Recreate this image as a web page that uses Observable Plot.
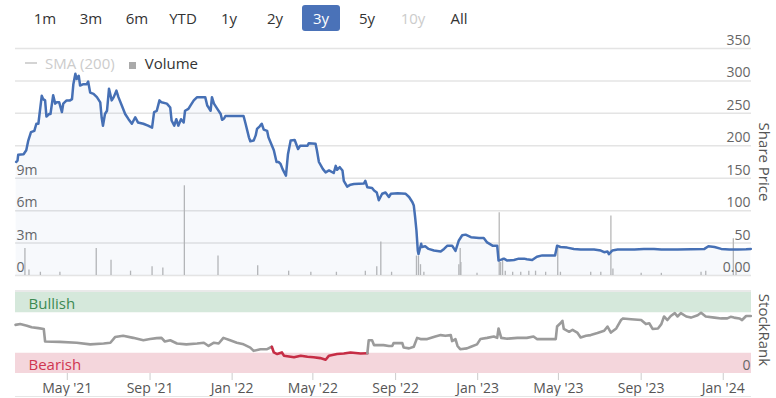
<!DOCTYPE html>
<html>
<head>
<meta charset="utf-8">
<script src="https://cdn.jsdelivr.net/npm/d3@7"></script>
<script src="https://cdn.jsdelivr.net/npm/@observablehq/plot@0.6"></script>
<style>
  html, body { margin: 0; padding: 0; background: #fff; }
  #wrap { position: relative; width: 776px; height: 398px; overflow: hidden; font-family: "Open Sans", sans-serif; }
  .layer { position: absolute; left: 0; }
  #buttons { position: absolute; left: 22px; top: 5px; display: flex; }
  #buttons span { width: 46px; display: flex; justify-content: center; }
  #buttons b { font-weight: normal; font-size: 15px; color: #333; height: 26px; line-height: 26px; padding: 0 11px; border-radius: 3px; }
  #buttons b.sel { background: #4a72b8; color: #fff; }
  #buttons b.off { color: #ccc; }
  #legend { position: absolute; left: 25px; top: 53px; font-size: 15px; display: flex; align-items: center; white-space: nowrap; }
  .vlabel { position: absolute; font-size: 15px; color: #555; transform: rotate(90deg); transform-origin: center center; white-space: nowrap; }
</style>
</head>
<body>
<div id="wrap">
  <div id="buttons"></div>
  <div id="legend"></div>
</div>
<script>
// ---------- DATA ----------
const rangeButtons = ["1m", "3m", "6m", "YTD", "1y", "2y", "3y", "5y", "10y", "All"];
const selectedButton = "3y";
const disabledButton = "10y";

const priceDates = [
 "2021-02-14","2021-02-16","2021-02-17","2021-02-25","2021-03-01","2021-03-04","2021-03-08","2021-03-13","2021-03-16","2021-03-19",
 "2021-03-24","2021-03-26","2021-03-29","2021-03-31","2021-04-04","2021-04-06","2021-04-10","2021-04-13","2021-04-15","2021-04-19",
 "2021-04-23","2021-04-25","2021-04-30","2021-05-05","2021-05-08","2021-05-10","2021-05-13","2021-05-15","2021-05-18","2021-05-20",
 "2021-05-25","2021-05-30","2021-06-01","2021-06-04","2021-06-09","2021-06-14","2021-06-19","2021-06-21","2021-06-23","2021-06-26",
 "2021-06-29","2021-07-02","2021-07-06","2021-07-09","2021-07-13","2021-07-16","2021-07-21","2021-07-26","2021-07-31","2021-08-05",
 "2021-08-10","2021-08-14","2021-08-22","2021-08-29","2021-09-04","2021-09-07","2021-09-11","2021-09-15","2021-09-18","2021-09-26",
 "2021-10-01","2021-10-03","2021-10-07","2021-10-10","2021-10-13","2021-10-17","2021-10-21","2021-10-23","2021-10-28","2021-10-31",
 "2021-11-05","2021-11-10","2021-11-17","2021-11-22","2021-11-25","2021-11-27","2021-11-30","2021-12-02","2021-12-05","2021-12-10",
 "2021-12-15","2021-12-17","2021-12-20","2021-12-22","2021-12-30","2022-01-18","2022-01-21","2022-01-26","2022-01-28","2022-02-02",
 "2022-02-05","2022-02-07","2022-02-11","2022-02-14","2022-02-17","2022-02-22","2022-02-24","2022-02-28","2022-03-04","2022-03-08",
 "2022-03-11","2022-03-14","2022-03-17","2022-03-22","2022-03-25","2022-03-29","2022-04-04","2022-04-09","2022-04-12","2022-04-23",
 "2022-04-25","2022-05-05","2022-05-07","2022-05-10","2022-05-16","2022-05-20","2022-05-25","2022-06-01","2022-06-04","2022-06-06",
 "2022-06-10","2022-06-14","2022-06-16","2022-06-21","2022-06-26","2022-07-01","2022-07-16","2022-07-18","2022-07-21","2022-07-28",
 "2022-07-31","2022-08-04","2022-08-07","2022-08-12","2022-08-17","2022-08-22","2022-08-25","2022-09-04","2022-09-16","2022-09-21",
 "2022-09-26","2022-09-28","2022-09-30","2022-10-02","2022-10-04","2022-10-05","2022-10-09","2022-10-10","2022-10-15","2022-10-20",
 "2022-10-28","2022-11-07","2022-11-12","2022-11-17","2022-11-24","2022-11-29","2022-12-04","2022-12-09","2022-12-14","2022-12-22",
 "2023-01-03","2023-01-10","2023-01-15","2023-01-23","2023-01-30","2023-02-01","2023-02-04","2023-02-09","2023-02-14","2023-02-24",
 "2023-03-03","2023-03-11","2023-03-15","2023-03-23","2023-03-30","2023-04-07","2023-04-17","2023-04-26","2023-04-29","2023-05-04",
 "2023-05-14","2023-05-24","2023-06-03","2023-06-23","2023-07-03","2023-07-08","2023-07-13","2023-07-15","2023-07-20","2023-07-28",
 "2023-08-22","2023-09-05","2023-09-20","2023-10-01","2023-10-25","2023-12-04","2023-12-10","2023-12-19","2023-12-29","2024-01-10",
 "2024-01-22","2024-02-04","2024-02-11"
];
const priceValues = [
 175,177,186,187,193,208,221,223,234,234,
 277,272,270,245,249,249,278,265,267,267,
 252,265,270,270,272,295,311,303,308,293,
 295,295,299,282,280,275,267,244,231,249,
 254,288,270,275,285,275,262,249,241,234,
 244,236,234,231,228,252,254,270,267,265,
 259,239,231,241,231,241,236,254,257,262,
 270,275,275,275,262,259,254,275,265,257,
 249,240,242,246,246,246,234,213,207,208,
 216,226,230,234,225,223,213,203,193,175,
 175,172,164,154,187,208,209,195,200,200,
 204,203,193,175,164,159,162,158,169,163,
 167,162,146,137,140,141,142,146,136,135,
 131,128,116,126,128,121,126,127,126,121,
 113,108,90,69,38,33,49,44,45,41,
 38.5,37,41,46,46,38,54,62,63,59,
 58,58,51,46,46,23,24,26,23,24,
 26,26,25,24,29,31,31,31,46,44,
 43,41,40,40,38.5,36,37,33,38.5,40,
 40,41,41,40,40,41,45,44,41,40,
 40,40.5,41
];

const volumeDates = [
 "2021-02-27","2021-03-05","2021-03-22","2021-04-20","2021-06-13","2021-07-05","2021-08-03","2021-09-04","2021-09-20","2021-10-22",
 "2021-12-11","2022-02-08","2022-03-26","2022-04-28","2022-06-05","2022-07-18","2022-08-04","2022-08-10","2022-08-26","2022-10-02",
 "2022-10-05","2022-10-08","2022-10-13","2022-12-04","2022-12-06","2022-12-07","2022-12-31","2023-02-02","2023-02-04","2023-02-07",
 "2023-02-11","2023-02-22","2023-03-06","2023-03-18","2023-03-28","2023-04-12","2023-04-30","2023-05-04","2023-06-18","2023-07-03",
 "2023-07-18","2023-07-21","2023-09-01","2023-10-01","2023-11-29","2023-12-06","2024-01-16","2024-01-20"
];
// volume in millions of shares
const volumeValues = [
 2.5,0.5,0.3,0.3,2.5,1.4,0.4,0.8,0.7,8.3,
 1.8,0.9,0.4,0.3,0.3,0.4,0.8,3.1,0.3,1.8,
 1.8,1.0,0.3,1.0,2.5,1.2,0.2,5.8,1.2,1.6,
 0.4,0.3,0.3,0.4,0.4,0.3,2.7,0.3,0.3,0.3,
 5.5,0.6,0.2,0.2,0.3,0.4,3.4,0.4
];

const rankDates = [
 "2021-02-13","2021-02-20","2021-03-02","2021-03-09","2021-03-19","2021-03-27","2021-03-29","2021-04-20","2021-05-15","2021-06-04",
 "2021-06-24","2021-07-04","2021-07-11","2021-07-23","2021-08-07","2021-08-22","2021-09-01","2021-09-11","2021-09-18","2021-09-23",
 "2021-10-01","2021-10-11","2021-10-25","2021-11-10","2021-11-20","2021-11-27","2021-12-05","2021-12-12","2021-12-19","2021-12-29",
 "2022-01-08","2022-01-18","2022-01-28","2022-02-02","2022-02-12","2022-02-22","2022-03-01","2022-03-04","2022-03-09","2022-03-16",
 "2022-03-19","2022-04-03","2022-04-13","2022-04-23","2022-05-02","2022-05-12","2022-05-20","2022-05-25","2022-06-06","2022-06-16",
 "2022-06-26","2022-07-11","2022-07-21","2022-07-23","2022-07-28","2022-07-31","2022-08-14","2022-08-22","2022-08-27","2022-08-29",
 "2022-09-11","2022-09-13","2022-09-21","2022-09-28","2022-10-03","2022-10-08","2022-10-18","2022-10-30","2022-11-07","2022-11-14",
 "2022-11-22","2022-11-24","2022-11-29","2022-12-02","2022-12-06","2022-12-16","2022-12-22","2022-12-31","2023-01-05","2023-01-15",
 "2023-01-25","2023-01-30","2023-02-01","2023-02-05","2023-02-14","2023-03-01","2023-03-15","2023-03-25","2023-03-30","2023-04-14",
 "2023-04-27","2023-04-29","2023-05-04","2023-05-07","2023-05-09","2023-05-17","2023-05-22","2023-05-29","2023-06-03","2023-06-11",
 "2023-06-18","2023-06-28","2023-07-08","2023-07-13","2023-07-18","2023-07-26","2023-08-02","2023-08-05","2023-08-17","2023-09-01",
 "2023-09-08","2023-09-13","2023-09-18","2023-09-26","2023-10-01","2023-10-05","2023-10-10","2023-10-15","2023-10-21","2023-10-25",
 "2023-10-30","2023-11-07","2023-11-14","2023-11-24","2023-11-29","2023-12-06","2023-12-19","2023-12-29","2024-01-07","2024-01-12",
 "2024-01-17","2024-01-25","2024-01-29","2024-02-04","2024-02-11"
];
const rankValues = [
 60,61,59,57,56,55,39.5,39,38,36,
 37,38,45,46.5,44,41,42.5,43.7,44,39.5,
 41,37,36,37,38,34,38,37,44,41,
 38,36,32,28,30,30,33,26,24,26,
 22,20,22,20.6,20,19,17,22,24,24.7,
 26,24.7,25,41,41,35,35,34,34,37.5,
 37.5,32,31,33,44,42.5,42.5,45.7,47.4,46.5,
 47.4,40,42.5,34,30,31,33,36,42.5,44,
 45.7,44,55.6,44,43,44,44,45.7,42.5,42.5,
 42.5,58,62,65,55,51.5,54,50.6,44.4,46.5,
 47.4,49.9,52.7,58,50.6,55.6,66,68,67,66,
 61,62,55,55.6,61,70.4,66,71,74.6,70.4,
 74.6,70.4,69,72,75,70.4,69,68,68,70,
 69,68,66,71,71
];
const bearishThreshold = 27;

const bandNames = ["Bullish", "Bearish"];
const bandLow = [75, 0];
const bandHigh = [100, 25];

const xDomain = ["2021-02-13", "2024-02-12"];
const xTickDates = ["2021-05-01","2021-09-01","2022-01-01","2022-05-01","2022-09-01","2023-01-01","2023-05-01","2023-09-01","2024-01-01"];
const xTickLabels = ["May '21","Sep '21","Jan '22","May '22","Sep '22","Jan '23","May '23","Sep '23","Jan '24"];
const priceTicks = [0, 50, 100, 150, 200, 250, 300, 350];
const volumeGrid = [0, 3, 6, 9, 12, 15, 18, 21];
const volumeTicks = [0, 3, 6, 9];
const rankTicks = [0];

// ---------- BUILD ----------
const P = d => new Date(d + "T00:00:00Z");
const price = priceDates.map((d, i) => ({date: P(d), value: priceValues[i]}));
const volume = volumeDates.map((d, i) => ({date: P(d), value: volumeValues[i]}));
const xdom = xDomain.map(P);
const labelByTime = new Map(xTickDates.map((d, i) => [P(d).getTime(), xTickLabels[i]]));

const BLUE = "#4670b5", GREY_LINE = "#9b9b9b", RED = "#c62d45";
const baseStyle = {background: "transparent", fontFamily: "'Open Sans', sans-serif", fontSize: "14px", overflow: "visible"};

// rank segments coloured by bearish/neutral
const rankSegs = [];
let seg = 0, prevColor = null;
rankDates.forEach((d, i) => {
  const c = rankValues[i] < bearishThreshold ? RED : GREY_LINE;
  if (prevColor !== null && c !== prevColor) {
    seg++;
    rankSegs.push({date: P(rankDates[i - 1]), value: rankValues[i - 1], seg, color: c});
  }
  rankSegs.push({date: P(d), value: rankValues[i], seg, color: c});
  prevColor = c;
});

const wrap = document.getElementById("wrap");

// buttons
const btns = document.getElementById("buttons");
rangeButtons.forEach(b => {
  const s = document.createElement("span");
  const t = document.createElement("b");
  t.textContent = b;
  if (b === selectedButton) t.className = "sel";
  if (b === disabledButton) t.className = "off";
  s.appendChild(t);
  btns.appendChild(s);
});

// legend
document.getElementById("legend").innerHTML =
  '<span style="display:inline-block;width:12px;height:1.5px;background:#d4d4d4;margin-right:8px"></span>' +
  '<span style="color:#cccccc">SMA (200)</span>' +
  '<span style="display:inline-block;width:7px;height:7px;background:#aaaaaa;margin:5px 9px 0 14px"></span>' +
  '<span style="color:#333">Volume</span>';

// volume layer (behind)
const volPlot = Plot.plot({
  width: 776, height: 280,
  marginTop: 48, marginBottom: 5, marginLeft: 15, marginRight: 25,
  x: {type: "utc", domain: xdom, axis: null},
  y: {domain: [0, 21]},
  style: baseStyle,
  marks: [
    Plot.gridY(volumeGrid, {stroke: "#e4e4e4", strokeOpacity: 1, strokeWidth: 1.5}),
    Plot.ruleX(volume, {x: "date", y1: 0, y2: "value", stroke: "#b8b8b8", strokeWidth: 1.3}),
    Plot.axisY(volumeTicks, {anchor: "left", label: null, tickSize: 0, tickPadding: 0, textAnchor: "start", dx: 1, dy: -8,
      fill: "#666", tickFormat: d => d === 0 ? "0" : d + "m"})
  ]
});
volPlot.classList.add("layer");
volPlot.style.top = "0px";
wrap.appendChild(volPlot);

// price layer
const pricePlot = Plot.plot({
  width: 776, height: 280,
  marginTop: 48, marginBottom: 5, marginLeft: 15, marginRight: 25,
  x: {type: "utc", domain: xdom, axis: null},
  y: {domain: [0, 350]},
  style: baseStyle,
  marks: [
    Plot.areaY(price, {x: "date", y: "value", fill: BLUE, fillOpacity: 0.045}),
    Plot.line(price, {x: "date", y: "value", stroke: BLUE, strokeWidth: 2.5, strokeLinejoin: "round"}),
    Plot.axisY(priceTicks, {anchor: "right", label: null, tickSize: 0, tickPadding: 0, textAnchor: "end", dx: -1, dy: -8,
      fill: "#666", tickFormat: d => d === 0 ? "0.00" : String(d)})
  ]
});
pricePlot.classList.add("layer");
pricePlot.style.top = "0px";
wrap.appendChild(pricePlot);

// stockrank layer
const rankPlot = Plot.plot({
  width: 776, height: 118,
  marginTop: 12, marginBottom: 25, marginLeft: 15, marginRight: 25,
  x: {type: "utc", domain: xdom},
  y: {domain: [0, 100]},
  color: {type: "identity"},
  style: baseStyle,
  marks: [
    Plot.rectY(bandNames, {y1: (d, i) => bandLow[i], y2: (d, i) => bandHigh[i],
      fill: (d, i) => i === 0 ? "#d5e8db" : "#f4d6dc"}),
    Plot.ruleY([100], {stroke: "#e2e2e2", strokeWidth: 1.5, dy: -1.5}),
    Plot.text(bandNames, {y: (d, i) => (bandLow[i] + bandHigh[i]) / 2, text: d => d, frameAnchor: "left",
      dx: 13, dy: 2, textAnchor: "start", fontSize: 15, fill: (d, i) => i === 0 ? "#3c8a52" : "#cf3550"}),
    Plot.line(rankSegs, {x: "date", y: "value", z: "seg", stroke: "color", strokeWidth: 2.6, strokeLinejoin: "round"}),
    Plot.axisY(rankTicks, {anchor: "right", label: null, tickSize: 0, tickPadding: 0, textAnchor: "end", dx: -1, dy: -8, fill: "#666"}),
    Plot.axisX(xTickDates.map(P), {label: null, tickSize: 7, tickPadding: 3, stroke: "#cccccc", fill: "#555",
      tickFormat: d => labelByTime.get(d.getTime())})
  ]
});
rankPlot.classList.add("layer");
rankPlot.style.top = "280px";
wrap.appendChild(rankPlot);

// bottom border line
const bl = document.createElement("div");
bl.style.cssText = "position:absolute;left:15px;width:736px;top:396px;height:1px;background:#e6e6e6";
wrap.appendChild(bl);

// rotated axis titles
function vlabel(text, cx, cy) {
  const el = document.createElement("div");
  el.className = "vlabel";
  el.textContent = text;
  wrap.appendChild(el);
  const w = el.offsetWidth, h = el.offsetHeight;
  el.style.left = (cx - w / 2) + "px";
  el.style.top = (cy - h / 2) + "px";
}
vlabel("Share Price", 765, 162);
vlabel("StockRank", 765, 330);
</script>
</body>
</html>
